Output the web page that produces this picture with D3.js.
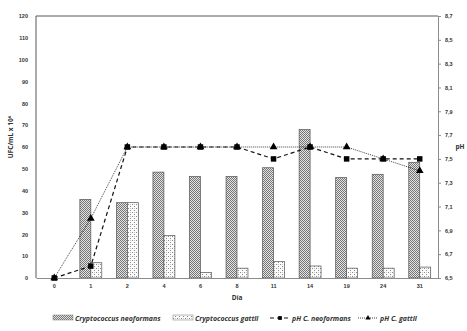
<!DOCTYPE html>
<meta charset="utf-8">
<style>
    body { margin: 0; background: #fff; }
    svg { font-family: "Open Sans", "Liberation Sans", sans-serif; }
    .tick text { font-size: 5.5px; font-weight: bold; fill: #333; }
</style>
<body>
<svg width="467" height="331"></svg>
<script src="https://cdn.jsdelivr.net/npm/d3@7"></script>
<script>
    var dias = ["0", "1", "2", "4", "6", "8", "11", "14", "19", "24", "31"];
    var neoformans = [0, 36, 34.5, 48.5, 46.5, 46.5, 50.5, 68, 46, 47.5, 53];
    var gattii = [0, 7, 34.5, 19.5, 2.5, 4.5, 7.5, 5.5, 4.5, 4.5, 5];
    var phNeoformans = [6.5, 6.6, 7.6, 7.6, 7.6, 7.6, 7.5, 7.6, 7.5, 7.5, 7.5];
    var phGattii = [6.5, 7.0, 7.6, 7.6, 7.6, 7.6, 7.6, 7.6, 7.6, 7.5, 7.4];
    var ufcTicks = d3.range(0, 121, 10);
    var phTicks = [6.5, 6.7, 6.9, 7.1, 7.3, 7.5, 7.7, 7.9, 8.1, 8.3, 8.5, 8.7];

    var svg = d3.select("svg");
    var margin = { top: 16, right: 29, bottom: 53, left: 36 },
        width = 467 - margin.left - margin.right,
        height = 331 - margin.top - margin.bottom;

    var x = d3.scaleBand().domain(dias).range([0, width]).paddingInner(0.4).paddingOuter(0.2);
    var y = d3.scaleLinear().domain([0, 120]).range([height, 0]);
    var y2 = d3.scaleLinear().domain([6.5, 8.7]).range([height, 0]);

    // fill patterns
    var defs = svg.append("defs");
    var p1 = defs.append("pattern").attr("id", "neo").attr("width", 2).attr("height", 2)
        .attr("patternUnits", "userSpaceOnUse");
    p1.append("rect").attr("width", 2).attr("height", 2).attr("fill", "#e4e4e4");
    p1.append("rect").attr("width", 1).attr("height", 1).attr("fill", "#767676");
    p1.append("rect").attr("x", 1).attr("y", 1).attr("width", 1).attr("height", 1).attr("fill", "#767676");

    var p2 = defs.append("pattern").attr("id", "gat").attr("width", 4).attr("height", 4)
        .attr("patternUnits", "userSpaceOnUse");
    p2.append("rect").attr("width", 4).attr("height", 4).attr("fill", "#fafafa");
    p2.append("rect").attr("width", 1).attr("height", 1).attr("fill", "#8a8a8a");
    p2.append("rect").attr("x", 2).attr("y", 2).attr("width", 1).attr("height", 1).attr("fill", "#8a8a8a");
    p2.append("rect").attr("x", 2).attr("y", 0).attr("width", 1).attr("height", 1).attr("fill", "#c8c8c8");

    var g = svg.append("g").attr("transform", "translate(" + margin.left + "," + margin.top + ")");

    // frame
    g.append("path")
        .attr("d", "M0," + height + "V0H" + width)
        .attr("fill", "none").attr("stroke", "#595959").attr("stroke-width", 1);

    var bw = x.bandwidth() / 2;

    g.append("g").selectAll("rect")
        .data(neoformans)
        .enter().append("rect")
        .attr("x", function (d, i) { return x(dias[i]); })
        .attr("y", function (d) { return y(d); })
        .attr("width", bw)
        .attr("height", function (d) { return height - y(d); })
        .attr("fill", "url(#neo)")
        .attr("stroke", function (d) { return d > 0 ? "#555" : "none"; })
        .attr("stroke-width", 0.7);

    g.append("g").selectAll("rect")
        .data(gattii)
        .enter().append("rect")
        .attr("x", function (d, i) { return x(dias[i]) + bw; })
        .attr("y", function (d) { return y(d); })
        .attr("width", bw)
        .attr("height", function (d) { return height - y(d); })
        .attr("fill", "url(#gat)")
        .attr("stroke", function (d) { return d > 0 ? "#555" : "none"; })
        .attr("stroke-width", 0.7);

    // axes
    var xAxis = g.append("g")
        .attr("transform", "translate(0," + height + ")")
        .call(d3.axisBottom(x).tickSize(0).tickPadding(6));
    xAxis.select(".domain").attr("stroke", "#8c8c8c");

    var yAxis = g.append("g")
        .call(d3.axisLeft(y).tickValues(ufcTicks).tickSize(0).tickPadding(8));
    yAxis.select(".domain").remove();

    var yAxis2 = g.append("g")
        .attr("transform", "translate(" + width + ",0)")
        .call(d3.axisRight(y2).tickValues(phTicks).tickSize(3).tickPadding(4)
            .tickFormat(function (d) { return d3.format(".1f")(d).replace(".", ","); }));
    yAxis2.select(".domain").attr("stroke", "#8c8c8c");
    yAxis2.selectAll(".tick line").attr("stroke", "#8c8c8c");

    // pH lines
    var cx = function (i) { return x(dias[i]) + x.bandwidth() / 2; };

    var phLine = d3.line()
        .x(function (d, i) { return cx(i); })
        .y(function (d) { return y2(d); });

    g.append("path")
        .datum(phGattii)
        .attr("d", phLine)
        .attr("fill", "none")
        .attr("stroke", "#111")
        .attr("stroke-width", 0.8)
        .attr("stroke-dasharray", "1,1");

    g.append("path")
        .datum(phNeoformans)
        .attr("d", phLine)
        .attr("fill", "none")
        .attr("stroke", "#111")
        .attr("stroke-width", 1.2)
        .attr("stroke-dasharray", "4,3");

    var tri = d3.symbol().type(d3.symbolTriangle).size(26);
    var sq = d3.symbol().type(d3.symbolSquare).size(30);
    var triSmall = d3.symbol().type(d3.symbolTriangle).size(12);
    var sqSmall = d3.symbol().type(d3.symbolSquare).size(14);

    g.append("g").selectAll("path")
        .data(phGattii)
        .enter().append("path")
        .attr("d", tri)
        .attr("transform", function (d, i) { return "translate(" + cx(i) + "," + y2(d) + ")"; })
        .attr("fill", "#000");

    g.append("g").selectAll("path")
        .data(phNeoformans)
        .enter().append("path")
        .attr("d", sq)
        .attr("transform", function (d, i) { return "translate(" + cx(i) + "," + y2(d) + ")"; })
        .attr("fill", "#000");

    // axis titles
    svg.append("text")
        .attr("transform", "translate(13," + (margin.top + height / 2 - 10) + ") rotate(-90)")
        .attr("text-anchor", "middle")
        .style("font-size", "6.5px").style("font-weight", "bold").style("fill", "#333")
        .text("UFC/mL x 10⁶");

    svg.append("text")
        .attr("x", 460).attr("y", 149)
        .attr("text-anchor", "middle")
        .style("font-size", "6.5px").style("font-weight", "bold").style("fill", "#333")
        .text("pH");

    svg.append("text")
        .attr("x", margin.left + width / 2).attr("y", 300)
        .attr("text-anchor", "middle")
        .style("font-size", "6.5px").style("font-weight", "bold").style("fill", "#333")
        .text("Día");

    // legend
    var legend = svg.append("g").attr("transform", "translate(0,318)");
    var items = [
        { x: 53, label: "Cryptococcus neoformans", kind: "neo" },
        { x: 173, label: "Cryptococcus gattii", kind: "gat" },
        { x: 270, label: "pH C. neoformans", kind: "lneo" },
        { x: 358, label: "pH C. gattii", kind: "lgat" }
    ];
    items.forEach(function (it) {
        var li = legend.append("g").attr("transform", "translate(" + it.x + ",0)");
        if (it.kind === "neo" || it.kind === "gat") {
            li.append("rect").attr("x", 0).attr("y", -3).attr("width", 20).attr("height", 5)
                .attr("fill", "url(#" + it.kind + ")").attr("stroke", "#777").attr("stroke-width", 0.5);
        } else if (it.kind === "lneo") {
            li.append("line").attr("x1", 0).attr("x2", 20).attr("y1", 0).attr("y2", 0)
                .attr("stroke", "#111").attr("stroke-width", 1.2).attr("stroke-dasharray", "4,3");
            li.append("path").attr("d", sqSmall).attr("transform", "translate(10,0)");
        } else {
            li.append("line").attr("x1", 0).attr("x2", 20).attr("y1", 0).attr("y2", 0)
                .attr("stroke", "#111").attr("stroke-width", 0.8).attr("stroke-dasharray", "1,1");
            li.append("path").attr("d", triSmall).attr("transform", "translate(10,0)");
        }
        li.append("text").attr("x", 22).attr("y", 2.5)
            .style("font-size", "7px").style("font-weight", "bold").style("font-style", "italic")
            .style("fill", "#333")
            .text(it.label);
    });
</script>
</body>
